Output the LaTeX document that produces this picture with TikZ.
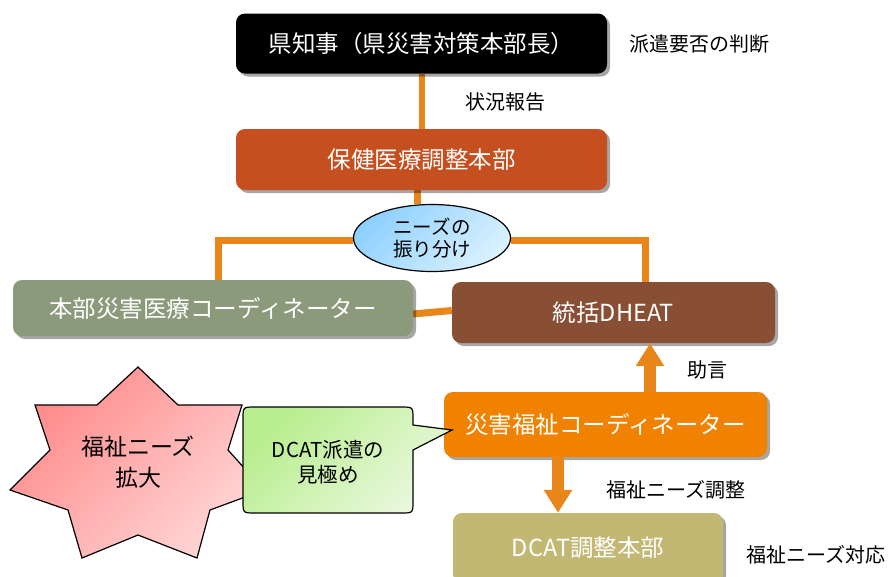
\documentclass[tikz,border=0pt]{standalone}
\usepackage{fontspec}
\setmainfont{Noto Sans CJK JP}
\usetikzlibrary{shadows,arrows.meta,shapes.geometric,backgrounds}
\definecolor{lineor}{HTML}{E8861A}
\definecolor{cchiji}{HTML}{000000}
\definecolor{choken}{HTML}{C54F1F}
\definecolor{cbumon}{HTML}{8C9A7C}
\definecolor{cdheat}{HTML}{894F35}
\definecolor{cfuku}{HTML}{F08200}
\definecolor{cdcat}{HTML}{C2B874}
\definecolor{ellA}{HTML}{8ED0FF}
\definecolor{ellB}{HTML}{DAF1FF}
\definecolor{starA}{HTML}{FF8A8A}
\definecolor{starB}{HTML}{FFD6D6}
\definecolor{calA}{HTML}{B8EE8E}
\definecolor{calB}{HTML}{EAF8DE}
\tikzset{
  box/.style={rounded corners=9pt, text=white, inner sep=0pt,
    font=\fontsize{23.5}{28}\selectfont,
    drop shadow={shadow xshift=3pt, shadow yshift=-3pt, opacity=0.35, fill=black}},
  lbl/.style={font=\fontsize{20}{24}\selectfont, text=black, inner sep=0pt},
  conn/.style={draw=lineor, line width=7pt},
  bigarrow/.style={draw=lineor, line width=12pt, -{Triangle[width=27pt,length=23pt]}},
  outl/.style={draw=black, line width=1.2pt}
}
\begin{document}
\begin{tikzpicture}[x=1pt,y=-1pt]
\useasboundingbox (0,0) rectangle (888,576);
% boxes
\node[box, fill=cchiji, minimum width=371pt, minimum height=60pt] (chiji) at (421.5,43.5) {県知事（県災害対策本部長）};
\node[box, fill=choken, minimum width=371pt, minimum height=61pt] (hoken) at (421.5,159.5) {保健医療調整本部};
\node[box, fill=cbumon, minimum width=400pt, minimum height=56pt] (bumon) at (213,308) {本部災害医療コーディネーター};
\node[box, fill=cdheat, minimum width=323pt, minimum height=61pt] (dheat) at (613.5,312.5) {統括DHEAT};
\node[box, fill=cfuku, minimum width=323pt, minimum height=65pt] (fukushi) at (605.5,424.5) {災害福祉コーディネーター};
\node[box, fill=cdcat, minimum width=270pt, minimum height=70pt] (dcat) at (588,548) {DCAT調整本部};
% ellipse
\node[ellipse, outl, top color=ellA, bottom color=ellB, shading angle=45,
      minimum width=157pt, minimum height=67pt, inner sep=0pt, align=center,
      font=\fontsize{19.5}{22}\selectfont] (ell) at (432,238) {ニーズの\\振り分け};
% labels
\node[lbl] (l1) at (699,44) {派遣要否の判断};
\node[lbl] (l2) at (505,102) {状況報告};
\node[lbl] (l3) at (707,370) {助言};
\node[lbl] (l4) at (676,490) {福祉ニーズ調整};
\node[lbl] (l5) at (816,555) {福祉ニーズ対応};
% star
\path[outl, top color=starA, bottom color=starB, shading angle=45]
  (138,367) -- (178,405) -- (242,405) -- (228,450) -- (264,490) -- (210,510)
  -- (197,558) -- (138,535) -- (82,558) -- (68,510) -- (10,490) -- (50,450)
  -- (35,405) -- (97,405) -- cycle;
\node[align=center, font=\fontsize{23}{31}\selectfont, inner sep=0pt] (star) at (138,462) {福祉ニーズ\\拡大};
% callout
\path[outl, top color=calA, bottom color=calB, shading angle=45]
  (328,407) -- (401,407) .. controls (413,407) .. (413,419) -- (413,425)
  -- (452,430) -- (413,450) -- (413,501) .. controls (413,513) .. (401,513)
  -- (255,513) .. controls (243,513) .. (243,501) -- (243,419)
  .. controls (243,407) .. (255,407) -- cycle;
\node[align=center, font=\fontsize{20.5}{25}\selectfont, inner sep=0pt] (cal) at (328,462) {DCAT派遣の\\見極め};
% connectors
\coordinate (cL) at (218,240);
\coordinate (cR) at (645,240);
\coordinate (aU) at (650,0);
\coordinate (aD) at (558,0);
\begin{scope}[on background layer]
\draw[conn, line width=6pt] (chiji.south) -- (hoken.north);
\draw[conn] ([xshift=-4pt]hoken.south) -- ([xshift=-4pt]hoken.south |- ell.north);
\draw[conn] (cL |- bumon.north) -- (cL) -- (cL -| ell.west);
\draw[conn] (cR -| ell.east) -- (cR) -- (cR |- dheat.north);
\draw[conn] ([yshift=-6pt]bumon.east) -- ([yshift=2pt]dheat.west);
\end{scope}
\draw[bigarrow] (aU |- fukushi.north) -- (aU |- dheat.south);
\draw[bigarrow] (aD |- fukushi.south) -- (aD |- dcat.north);
\end{tikzpicture}
\end{document}
